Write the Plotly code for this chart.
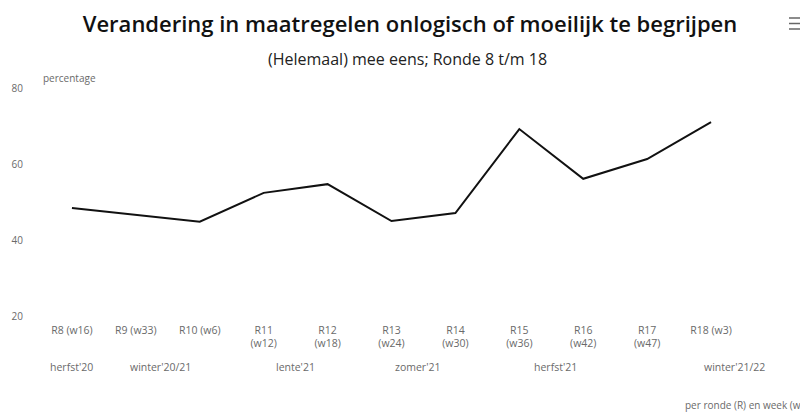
import plotly.graph_objects as go

# rounds (R) and survey week (w)
rounds = ["R8 (w16)", "R9 (w33)", "R10 (w6)", "R11<br>(w12)", "R12<br>(w18)",
          "R13<br>(w24)", "R14<br>(w30)", "R15<br>(w36)", "R16<br>(w42)",
          "R17<br>(w47)", "R18 (w3)"]
pct_agree = [48.4, 46.6, 44.8, 52.4, 54.7, 45.0, 47.1, 69.2, 56.1, 61.3, 71.0]
y_ticks = [20, 40, 60, 80]
seasons = ["herfst'20", "winter'20/21", "lente'21", "zomer'21", "herfst'21", "winter'21/22"]

# page body has an 8px margin, so the figure is drawn 8px in from the window edge
OFF = 8
W, H = 808 - OFF, 418 - OFF
ML, MR, MT, MB = 40 - OFF, 65, 88 - OFF, 102
plot_w = W - ML - MR
plot_h = H - MT - MB


def px_x(x):
    # window pixel x -> paper fraction
    return (x - OFF - ML) / plot_w


def px_y(y):
    # window pixel y -> paper fraction
    return (H - MB - (y - OFF)) / plot_h


fig = go.Figure()

fig.add_trace(go.Scatter(
    x=rounds,
    y=pct_agree,
    mode='lines',
    line=dict(color='#111111', width=2),
    showlegend=False,
    hoverinfo='x+y'
))

grey = '#6a6a6a'
font_family = 'Open Sans, Lato, sans-serif'

# season labels under the round labels (position in category index units)
season_pos = [0.0, 1.38, 3.49, 5.41, 7.56, 10.37]
for label, pos in zip(seasons, season_pos):
    fig.add_annotation(x=pos, y=px_y(367), xref='x', yref='paper',
                       text=label, showarrow=False, yanchor='middle',
                       font=dict(size=10.5, color=grey, family=font_family))

fig.add_annotation(x=px_x(806), y=px_y(405), xref='paper', yref='paper', xanchor='right',
                   yanchor='middle', text='per ronde (R) en week (w)',
                   showarrow=False, font=dict(size=10, color=grey, family=font_family))
fig.add_annotation(x=px_x(41), y=px_y(78), xref='paper', yref='paper', xanchor='left',
                   yanchor='middle', text='percentage',
                   showarrow=False, font=dict(size=10, color=grey, family=font_family))

# subtitle
fig.add_annotation(x=px_x(408), y=px_y(59), xref='paper', yref='paper', xanchor='center',
                   yanchor='middle', showarrow=False,
                   text='(Helemaal) mee eens; Ronde 8 t/m 18',
                   font=dict(size=16, color='#222222', family=font_family))

# menu icon (three short lines, top right)
for yy in [18, 23.5, 29]:
    fig.add_shape(type='line', xref='paper', yref='paper',
                  x0=px_x(789), x1=px_x(804), y0=px_y(yy), y1=px_y(yy),
                  line=dict(color='#666666', width=1.5))

fig.update_layout(
    width=W, height=H,
    margin=dict(l=ML, r=MR, t=MT, b=MB),
    paper_bgcolor='white', plot_bgcolor='white',
    title=dict(
        text='Verandering in maatregelen onlogisch of moeilijk te begrijpen',
        x=(410 - OFF) / W, xanchor='center', y=1 - (24 - OFF) / H, yanchor='middle',
        font=dict(size=22, color='#111111', family=font_family, weight=600)
    ),
    xaxis=dict(
        range=[-0.5, 10.5], showgrid=False, zeroline=False, showline=False,
        tickfont=dict(size=10.5, color=grey, family=font_family),
        ticks='outside', ticklen=4, tickcolor='white', automargin=False
    ),
    yaxis=dict(
        range=[20, 80], tickvals=y_ticks, showgrid=False, zeroline=False,
        showline=False, ticks='outside', ticklen=14, tickcolor='white',
        tickfont=dict(size=10, color=grey, family=font_family), automargin=False
    )
)

fig.write_html("out.html")
